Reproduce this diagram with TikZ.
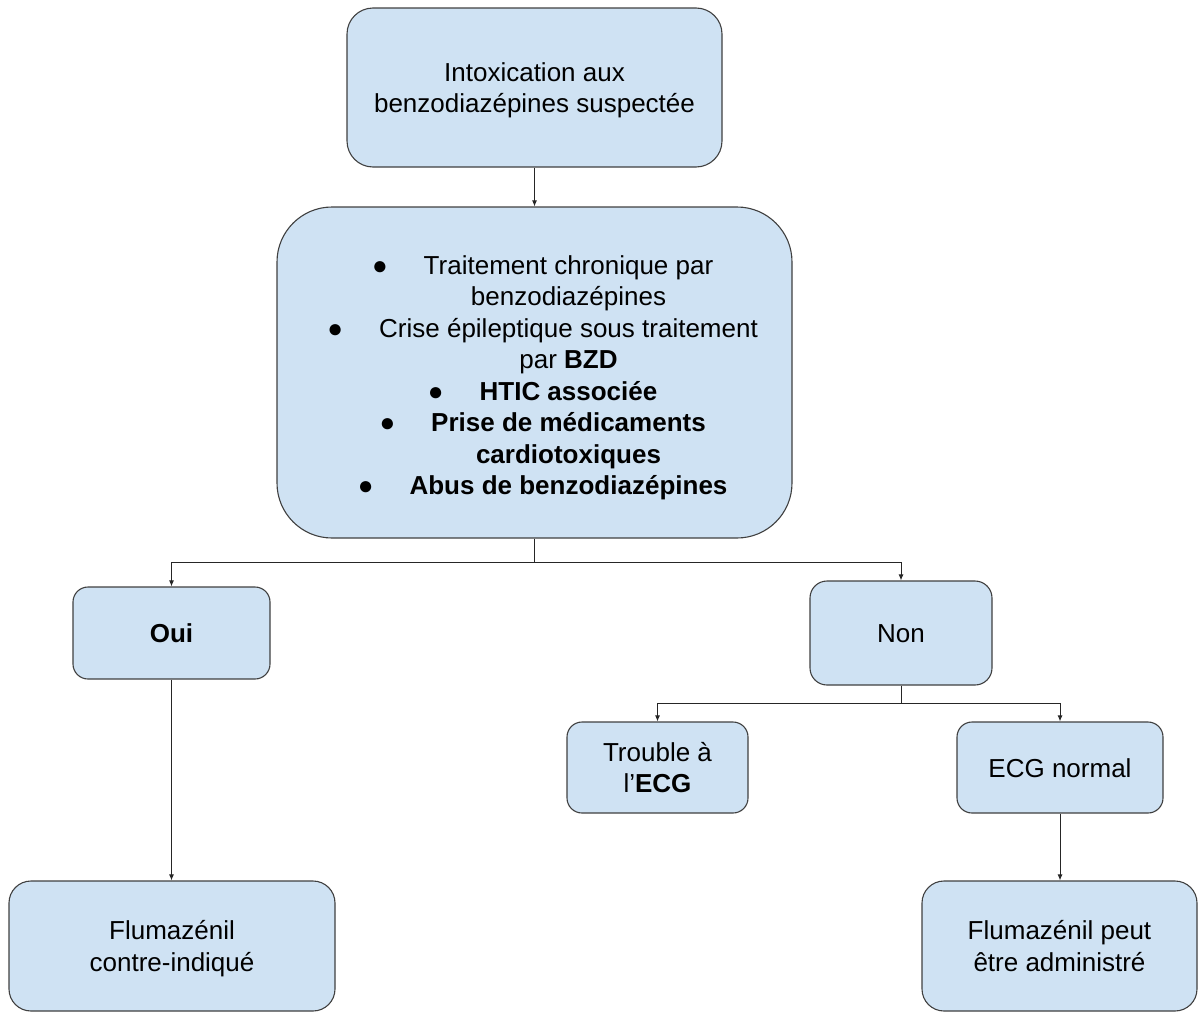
\documentclass[tikz,border=0pt]{standalone}
\usepackage{fontspec}
\setmainfont{Liberation Sans}
\usetikzlibrary{arrows.meta}
\definecolor{boxfill}{HTML}{CFE2F3}
\definecolor{boxline}{HTML}{404040}
% line strut: fixes the vertical placement of every text line
\newcommand{\ls}{\rule[-6pt]{0pt}{31pt}}
% list bullet hanging to the left of the item text
\newcommand{\bul}{\llap{●\hspace{36pt}}}

\begin{document}
\begin{tikzpicture}[x=1pt,y=-1pt,
  every node/.style={font=\fontsize{26}{31.5}\selectfont},
  box/.style={draw=boxline, line width=1.1pt, fill=boxfill, rectangle,
              inner sep=0pt, align=center},
  link/.style={draw=black!85, line width=1pt, -{Latex[length=6pt,width=5pt]}},
]
\useasboundingbox (0,0) rectangle (1199,1012);

% boxes
\node[box, minimum width=375pt, minimum height=159pt, rounded corners=26pt]
  (start) at (534.5,87.5) {\ls Intoxication aux\\\ls benzodiazépines suspectée};

\node[box, minimum width=515pt, minimum height=331pt, rounded corners=55pt]
  (crit) at (534.5,372.5) {};
\node[inner sep=0pt, align=center] (critlist) at (568.5,374.75) {%
  \bul\ls Traitement chronique par\\
  \ls benzodiazépines\\
  \bul\ls Crise épileptique sous traitement\\
  \ls par \textbf{BZD}\\
  \bul\ls\textbf{HTIC associée}\\
  \bul\ls\textbf{Prise de médicaments}\\
  \ls\textbf{cardiotoxiques}\\
  \bul\ls\textbf{Abus de benzodiazépines}};

\node[box, minimum width=197pt, minimum height=92pt, rounded corners=15pt]
  (oui) at (171.5,633) {\ls\textbf{Oui}};
\node[box, minimum width=182pt, minimum height=104pt, rounded corners=17pt]
  (non) at (901,633) {\ls Non};

\node[box, minimum width=181pt, minimum height=91pt, rounded corners=15pt]
  (trouble) at (657.5,767.5) {\ls Trouble à\\\ls l’\textbf{ECG}};
\node[box, minimum width=206pt, minimum height=91pt, rounded corners=15pt]
  (ecgn) at (1060,767.5) {\ls ECG normal};

\node[box, minimum width=326pt, minimum height=130pt, rounded corners=22pt]
  (contra) at (172,946) {\ls Flumazénil\\\ls contre-indiqué};
\node[box, minimum width=275pt, minimum height=130pt, rounded corners=22pt]
  (admin) at (1059.5,946) {\ls Flumazénil peut\\\ls être administré};

% connectors
\draw[link] (start.south) -- (crit.north);
\draw[link] (crit.south) -- ++(0,24) -| (oui.north);
\draw[link] (crit.south) -- ++(0,24) -| (non.north);
\draw[link] (oui.south) -- (oui.south |- contra.north);
\draw[link] (non.south) -- ++(0,18) -| (trouble.north);
\draw[link] (non.south) -- ++(0,18) -| (ecgn.north);
\draw[link] (ecgn.south) -- (ecgn.south |- admin.north);
\end{tikzpicture}
\end{document}
